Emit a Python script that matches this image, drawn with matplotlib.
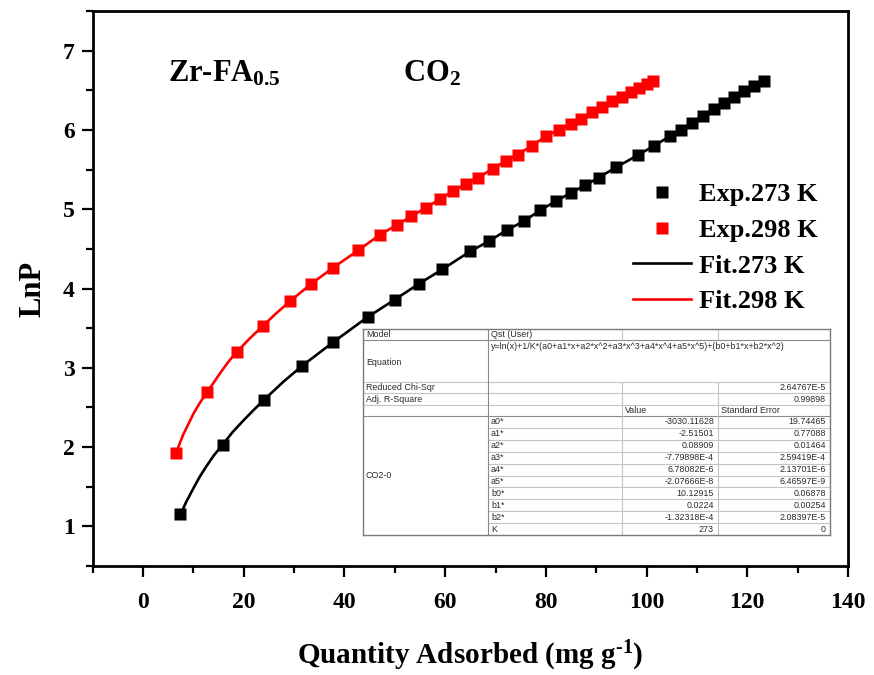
import matplotlib
matplotlib.use("Agg")
import matplotlib.pyplot as plt
from matplotlib.lines import Line2D
from matplotlib.ticker import MultipleLocator

plt.rcParams['font.family'] = ['Liberation Serif', 'DejaVu Serif']
plt.rcParams['font.weight'] = 'bold'
plt.rcParams['mathtext.fontset'] = 'custom'
plt.rcParams['mathtext.rm'] = 'Liberation Serif:bold'
plt.rcParams['mathtext.bf'] = 'Liberation Serif:bold'
plt.rcParams['mathtext.it'] = 'Liberation Serif:bold'

# ---------------- data ----------------
exp273_x = [7.4, 15.8, 24.1, 31.5, 37.7, 44.6, 50.0, 54.8, 59.4, 65.0, 68.8, 72.3, 75.7,
            78.9, 82.0, 85.0, 87.8, 90.5, 94.0, 98.2, 101.5, 104.6, 106.8, 109.0, 111.2,
            113.3, 115.3, 117.4, 119.4, 121.4, 123.4]
exp273_y = [1.16, 2.02, 2.60, 3.02, 3.32, 3.64, 3.86, 4.06, 4.24, 4.47, 4.60, 4.74, 4.85,
            4.99, 5.10, 5.21, 5.30, 5.40, 5.53, 5.68, 5.80, 5.92, 6.00, 6.09, 6.18,
            6.26, 6.34, 6.42, 6.49, 6.56, 6.62]

exp298_x = [6.6, 12.7, 18.6, 23.8, 29.2, 33.4, 37.7, 42.7, 47.1, 50.4, 53.3, 56.2, 59.0,
            61.6, 64.2, 66.6, 69.4, 72.1, 74.4, 77.2, 80.0, 82.6, 84.9, 87.0, 89.2, 91.2,
            93.2, 95.1, 96.9, 98.5, 100.0, 101.3]
exp298_y = [1.92, 2.69, 3.20, 3.53, 3.84, 4.06, 4.26, 4.48, 4.68, 4.80, 4.91, 5.02, 5.13,
            5.23, 5.32, 5.40, 5.51, 5.61, 5.69, 5.80, 5.92, 6.00, 6.07, 6.14, 6.22, 6.29,
            6.36, 6.42, 6.48, 6.53, 6.58, 6.62]

# fit curves (extra readings where curvature is strong)
fit273_x = [7.4, 8.5, 10.0, 11.2, 12.5, 14.0, 15.8, 17.8, 20.0, 22.0, 24.1, 27.8, 31.5,
            37.7, 44.6, 50.0, 54.8, 59.4, 65.0, 68.8, 72.3, 75.7, 78.9, 82.0, 85.0, 87.8,
            90.5, 94.0, 98.2, 101.5, 104.6, 106.8, 109.0, 111.2, 113.3, 115.3, 117.4, 119.4,
            121.4, 123.4]
fit273_y = [1.14, 1.30, 1.48, 1.62, 1.75, 1.89, 2.03, 2.19, 2.34, 2.47, 2.60, 2.82, 3.02,
            3.32, 3.64, 3.86, 4.06, 4.24, 4.47, 4.60, 4.74, 4.85, 4.99, 5.10, 5.21, 5.30,
            5.40, 5.53, 5.68, 5.80, 5.92, 6.00, 6.09, 6.18, 6.26, 6.34, 6.42, 6.49,
            6.56, 6.62]

fit298_x = [6.6, 7.3, 8.0, 9.0, 10.0, 11.3, 12.7, 14.1, 15.5, 17.0, 18.6, 21.2, 23.8,
            26.5, 29.2, 33.4, 37.7, 42.7, 47.1, 50.4, 53.3, 56.2, 59.0, 61.6, 64.2, 66.6,
            69.4, 72.1, 74.4, 77.2, 80.0, 82.6, 84.9, 87.0, 89.2, 91.2, 93.2, 95.1, 96.9,
            98.5, 100.0, 101.3]
fit298_y = [1.93, 2.05, 2.16, 2.29, 2.42, 2.56, 2.69, 2.82, 2.95, 3.08, 3.20, 3.37, 3.53,
            3.69, 3.84, 4.06, 4.26, 4.48, 4.68, 4.80, 4.91, 5.02, 5.13, 5.23, 5.32, 5.40,
            5.51, 5.61, 5.69, 5.80, 5.92, 6.00, 6.07, 6.14, 6.22, 6.29, 6.36, 6.42, 6.48,
            6.53, 6.58, 6.62]

legend_labels = ['Exp.273 K', 'Exp.298 K', 'Fit.273 K', 'Fit.298 K']

# table content
tbl_params = ['a0*', 'a1*', 'a2*', 'a3*', 'a4*', 'a5*', 'b0*', 'b1*', 'b2*', 'K']
tbl_values = ['-3030.11628', '-2.51501', '0.08909', '-7.79898E-4', '6.78082E-6',
              '-2.07666E-8', '10.12915', '0.0224', '-1.32318E-4', '273']
tbl_errors = ['19.74465', '0.77088', '0.01464', '2.59419E-4', '2.13701E-6',
              '6.46597E-9', '0.06878', '0.00254', '2.08397E-5', '0']
tbl_equation = 'y=ln(x)+1/K*(a0+a1*x+a2*x^2+a3*x^3+a4*x^4+a5*x^5)+(b0+b1*x+b2*x^2)'
tbl_chi = '2.64767E-5'
tbl_r2 = '0.99898'

# ---------------- figure ----------------
W, H = 874, 675
fig = plt.figure(figsize=(W / 100, H / 100), dpi=100)
L, R, T, B = 92.7, 848, 11, 566
ax = fig.add_axes([L / W, 1 - B / H, (R - L) / W, (B - T) / H])

ax.plot(fit273_x, fit273_y, '-', color='black', lw=1.9, zorder=2)
ax.plot(fit298_x, fit298_y, '-', color='#ff0000', lw=1.9, zorder=2)
ax.plot(exp273_x, exp273_y, 's', color='black', ms=9, mec='none', zorder=3)
ax.plot(exp298_x, exp298_y, 's', color='#ff0000', ms=9, mec='none', zorder=3)

ax.set_xlim(-10, 140)
ax.set_ylim(0.5, 7.5)
ax.xaxis.set_major_locator(MultipleLocator(20))
ax.xaxis.set_minor_locator(MultipleLocator(10))
ax.yaxis.set_major_locator(MultipleLocator(1))
ax.yaxis.set_minor_locator(MultipleLocator(0.5))
ax.set_xticks(list(range(0, 141, 20)))
ax.set_yticks(list(range(1, 8)))
ax.tick_params(which='major', direction='out', length=8, width=1.6, labelsize=17, pad=5)
ax.tick_params(axis='x', which='major', pad=11)
ax.tick_params(which='minor', direction='out', length=5, width=1.6)
ax.tick_params(top=False, right=False, which='both')
for lab in ax.get_xticklabels() + ax.get_yticklabels():
    lab.set_fontweight('bold')
for s in ax.spines.values():
    s.set_linewidth(2)

ax.set_xlabel(r'Quantity Adsorbed (mg g$^{\text{-1}}$)', fontsize=21, fontweight='bold', labelpad=18)
ax.set_ylabel('LnP', fontsize=22, fontweight='bold', labelpad=11)

fig.text(168 / W, 1 - 82 / H, 'Zr-FA$_{0.5}$', fontsize=22, fontweight='bold', ha='left', va='baseline')
fig.text(403 / W, 1 - 82 / H, 'CO$_{2}$', fontsize=22, fontweight='bold', ha='left', va='baseline')

handles = [Line2D([], [], ls='none', marker='s', color='black', ms=8, mec='none'),
           Line2D([], [], ls='none', marker='s', color='#ff0000', ms=8, mec='none'),
           Line2D([], [], color='black', lw=1.9),
           Line2D([], [], color='#ff0000', lw=1.9)]
leg = ax.legend(handles, legend_labels, loc='upper left', bbox_to_anchor=(633 / W, 1 - 183 / H),
                bbox_transform=fig.transFigure, frameon=False, prop={'size': 19, 'weight': 'bold'},
                handlelength=2.2, handletextpad=0.3, labelspacing=0.46, borderpad=0, borderaxespad=0)

# ---------------- table inset ----------------
tx0, ty0, tx1, ty1 = 363, 329, 830, 535
tw, th = tx1 - tx0, ty1 - ty0
tax = fig.add_axes([tx0 / W, 1 - ty1 / H, tw / W, th / H], zorder=5)
tax.set_xlim(0, tw)
tax.set_ylim(th, 0)
tax.set_facecolor('white')
tax.set_xticks([])
tax.set_yticks([])
for s in tax.spines.values():
    s.set_color('#7a7a7a')
    s.set_linewidth(1.0)

c1, c2, c3 = 125, 259, 355
light = '#c4c4c4'
dark = '#8a8a8a'
row_h = (th - 87) / 10.0
sub_rows = [87 + i * row_h for i in range(11)]

# horizontal lines
tax.hlines(11, 0, tw, color=dark, lw=0.8)
for yv in [53, 64, 76]:
    tax.hlines(yv, 0, tw, color=light, lw=0.8)
tax.hlines(87, 0, tw, color=dark, lw=0.8)
for yv in sub_rows[1:-1]:
    tax.hlines(yv, c1, tw, color=light, lw=0.8)
# vertical lines
tax.vlines(c1, 0, th, color=dark, lw=0.8)
tax.vlines([c2, c3], 0, 11, color=light, lw=0.8)
tax.vlines([c2, c3], 53, th, color=light, lw=0.8)

tfont = dict(family=['Liberation Sans', 'DejaVu Sans'], fontsize=6.4, color='#2a2a2a', fontweight='normal')
def cell(x, y, s, ha='left'):
    tax.text(x, y, s, ha=ha, va='center', **tfont)

cell(3, 5.8, 'Model')
cell(c1 + 3, 5.8, 'Qst (User)')
cell(c1 + 3, 17, tbl_equation)
cell(3, 33, 'Equation')
cell(3, 58.5, 'Reduced Chi-Sqr')
cell(tw - 4, 58.5, tbl_chi, ha='right')
cell(3, 70, 'Adj. R-Square')
cell(tw - 4, 70, tbl_r2, ha='right')
cell(c2 + 3, 81.5, 'Value')
cell(c3 + 3, 81.5, 'Standard Error')
cell(3, (87 + th) / 2, 'CO2-0')
for i in range(10):
    yc = sub_rows[i] + row_h / 2
    cell(c1 + 3, yc, tbl_params[i])
    cell(c3 - 4, yc, tbl_values[i], ha='right')
    cell(tw - 4, yc, tbl_errors[i], ha='right')

fig.savefig('out.png', dpi=100)
